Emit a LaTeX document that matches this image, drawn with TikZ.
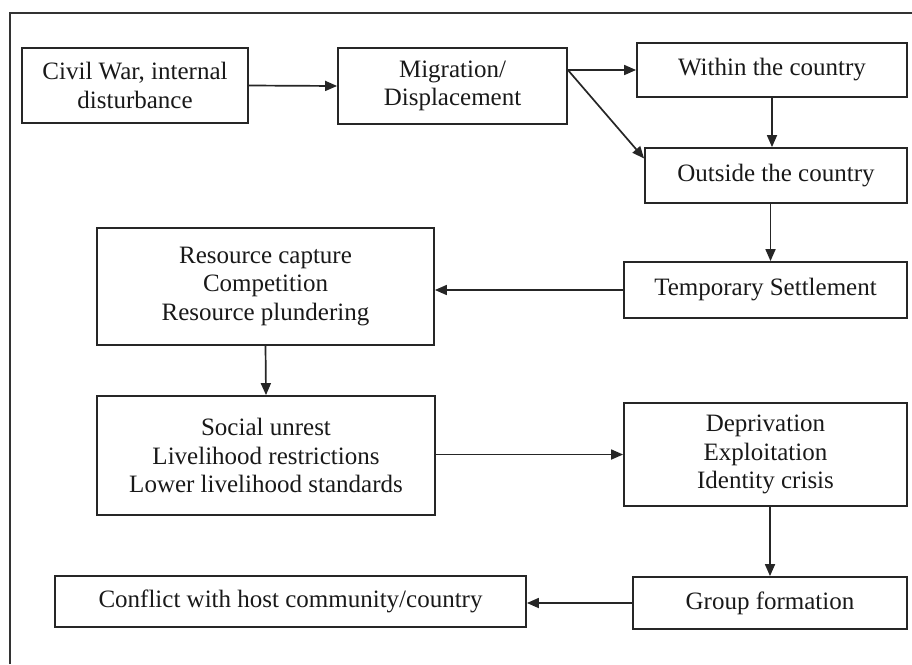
\documentclass[tikz,border=0pt]{standalone}
\usepackage{fontspec}
\setmainfont{Liberation Serif}
\usetikzlibrary{arrows.meta,calc}
\begin{document}
\begin{tikzpicture}[x=1pt,y=-1pt,
  box/.style={draw=black!85,line width=1.8pt,rectangle,inner sep=0pt,align=center,
    font=\fontsize{25}{28.5}\selectfont,text=black!90},
  conn/.style={line width=1.7pt,draw=black!85,-{Triangle[length=12pt,width=10pt]}}]
\useasboundingbox (0,0) rectangle (912,664);
\draw[line width=1.8pt,black!80] (10,664) -- (10,13) -- (912,13);
\node[box,minimum width=226,minimum height=75] (civ) at (135,85.5) {Civil War, internal\\disturbance};
\node[box,minimum width=229,minimum height=76] (mig) at (452.5,86) {Migration/\\Displacement};
\node[box,minimum width=270,minimum height=54] (within) at (772,70) {Within the country};
\node[box,minimum width=262,minimum height=55] (outside) at (776,175.5) {Outside the country};
\node[box,minimum width=283,minimum height=56] (temp) at (765.5,290) {Temporary Settlement};
\node[box,minimum width=337,minimum height=117] (res) at (265.5,286.5) {Resource capture\\Competition\\Resource plundering};
\node[box,minimum width=338,minimum height=119] (soc) at (266,455.5) {Social unrest\\Livelihood restrictions\\Lower livelihood standards};
\node[box,minimum width=283,minimum height=103] (dep) at (765.5,454.5) {Deprivation\\Exploitation\\Identity crisis};
\node[box,minimum width=274,minimum height=52] (grp) at (770,603) {Group formation};
\node[box,minimum width=471,minimum height=51] (con) at (290.5,601.5) {Conflict with host community/country};
\coordinate (mstart) at (mig.east |- within.west);
\coordinate (oin) at ($(outside.north west)!0.2!(outside.south west)$);
\draw[conn] (civ.east) -- (mig.west);
\draw[conn] (mstart) -- (within.west);
\draw[conn] (mstart) -- (oin);
\draw[conn] (within.south) -- (within.south |- outside.north);
\draw[conn] (outside.south -| temp.north) ++(5,0) coordinate (os) -- (os |- temp.north);
\draw[conn] (temp.west) -- (temp.west -| res.east);
\draw[conn] (res.south) -- (soc.north);
\draw[conn] (soc.east |- dep.west) -- (dep.west);
\draw[conn] (grp.north |- dep.south) -- (grp.north);
\draw[conn] (grp.west) -- (grp.west -| con.east);
\end{tikzpicture}
\end{document}
